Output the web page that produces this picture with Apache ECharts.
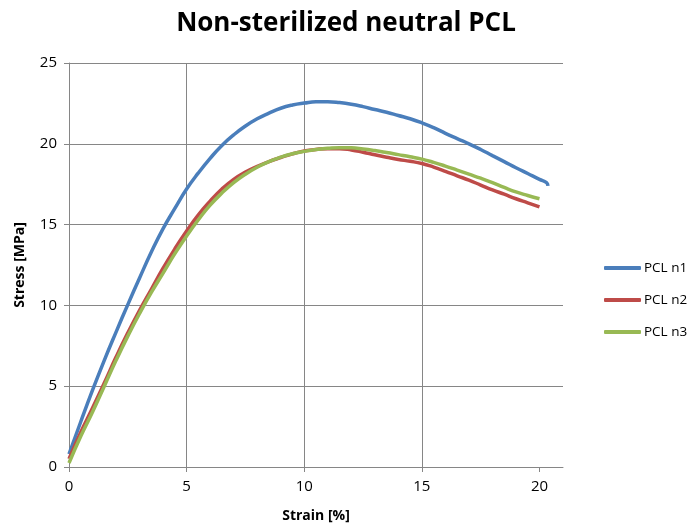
<!DOCTYPE html>
<html>
<head>
<meta charset="utf-8">
<script src="https://cdn.jsdelivr.net/npm/echarts@6/dist/echarts.min.js"></script>
<style>
  html, body { margin: 0; padding: 0; background: #fff; }
  #chart { width: 692px; height: 529px; }
</style>
</head>
<body>
<div id="chart"></div>
<script>
// strain [%] and stress [MPa]
var strain = [0, 0.5, 1, 1.5, 2, 2.5, 3, 3.5, 4, 4.5, 5, 5.5, 6, 6.5, 7, 7.5, 8, 8.5, 9, 9.5,
  10, 10.5, 11, 11.5, 12, 12.5, 13, 13.5, 14, 14.5, 15, 15.5, 16, 16.5, 17, 17.5, 18, 18.5, 19, 19.5, 20];
var n1 = [0.8, 2.8, 4.75, 6.6, 8.35, 10.05, 11.7, 13.3, 14.75, 16.0, 17.2, 18.2, 19.1, 19.9, 20.55, 21.1, 21.55, 21.9, 22.2, 22.4,
  22.52, 22.6, 22.6, 22.55, 22.45, 22.3, 22.12, 21.95, 21.75, 21.55, 21.3, 21.0, 20.65, 20.32, 20.0, 19.65, 19.27, 18.9, 18.52, 18.16, 17.8];
var n1TailX = [20.3, 20.36];
var n1TailY = [17.6, 17.4];
var n2 = [0.5, 2.15, 3.65, 5.2, 6.8, 8.3, 9.7, 11.0, 12.3, 13.5, 14.6, 15.6, 16.45, 17.2, 17.8, 18.25, 18.6, 18.9, 19.15, 19.38,
  19.55, 19.65, 19.7, 19.7, 19.62, 19.48, 19.32, 19.17, 19.03, 18.92, 18.78, 18.56, 18.3, 18.02, 17.75, 17.45, 17.15, 16.88, 16.6, 16.35, 16.1];
var n3 = [0.25, 1.9, 3.4, 5.0, 6.6, 8.1, 9.5, 10.8, 12.0, 13.2, 14.3, 15.3, 16.2, 16.95, 17.6, 18.12, 18.55, 18.9, 19.17, 19.38,
  19.53, 19.65, 19.72, 19.76, 19.75, 19.68, 19.58, 19.46, 19.33, 19.2, 19.05, 18.85, 18.62, 18.37, 18.12, 17.87, 17.6, 17.3, 17.02, 16.8, 16.6];

var tickVals = [0, 5, 10, 15, 20];

function pairs(xs, ys) {
  var out = [];
  for (var i = 0; i < xs.length; i++) out.push([xs[i], ys[i]]);
  return out;
}

var font = '"Open Sans", "Liberation Sans", sans-serif';
var myChart = echarts.init(document.getElementById('chart'));

var option = {
  animation: false,
  title: {
    text: 'Non-sterilized neutral PCL',
    left: 'center',
    top: 6,
    textStyle: { fontFamily: font, fontSize: 26, fontWeight: 'bold', color: '#000' }
  },
  legend: {
    orient: 'vertical',
    left: 599,
    top: 256,
    itemGap: 18,
    itemWidth: 37,
    itemHeight: 4,
    icon: 'roundRect',
    textStyle: { fontFamily: font, fontSize: 13.5, color: '#000', padding: [0, 0, 0, -2] },
    data: ['PCL n1', 'PCL n2', 'PCL n3']
  },
  grid: { left: 69, right: 129, top: 63, bottom: 62 },
  xAxis: {
    type: 'value',
    min: 0,
    max: 21,
    interval: 5,
    name: 'Strain [%]',
    nameLocation: 'middle',
    nameGap: 42,
    nameTextStyle: { fontFamily: font, fontSize: 14, fontWeight: 'bold', color: '#000' },
    axisLine: { show: true, lineStyle: { color: '#868686', width: 1 } },
    axisTick: { show: true, inside: false, length: 5, customValues: tickVals, lineStyle: { color: '#868686' } },
    axisLabel: { fontFamily: font, fontSize: 15, color: '#000', margin: 12, customValues: tickVals },
    splitLine: { show: true, showMaxLine: false, lineStyle: { color: '#868686', width: 1 } }
  },
  yAxis: {
    type: 'value',
    min: 0,
    max: 25,
    interval: 5,
    name: 'Stress [MPa]',
    nameLocation: 'middle',
    nameGap: 42,
    nameTextStyle: { fontFamily: font, fontSize: 14, fontWeight: 'bold', color: '#000' },
    axisLine: { show: true, lineStyle: { color: '#868686', width: 1 } },
    axisTick: { show: true, inside: false, length: 5, lineStyle: { color: '#868686' } },
    axisLabel: { fontFamily: font, fontSize: 15, color: '#000', margin: 12 },
    splitLine: { show: true, lineStyle: { color: '#868686', width: 1 } }
  },
  series: [
    {
      name: 'PCL n1', type: 'line', smooth: 0.5, showSymbol: false,
      data: pairs(strain.concat(n1TailX), n1.concat(n1TailY)),
      lineStyle: { width: 3.5, color: '#4A7EBB' }, itemStyle: { color: '#4A7EBB' }
    },
    {
      name: 'PCL n2', type: 'line', smooth: 0.5, showSymbol: false,
      data: pairs(strain, n2),
      lineStyle: { width: 3.5, color: '#BE4B48' }, itemStyle: { color: '#BE4B48' }
    },
    {
      name: 'PCL n3', type: 'line', smooth: 0.5, showSymbol: false,
      data: pairs(strain, n3),
      lineStyle: { width: 3.5, color: '#98B954' }, itemStyle: { color: '#98B954' }
    }
  ]
};

myChart.setOption(option);
</script>
</body>
</html>
